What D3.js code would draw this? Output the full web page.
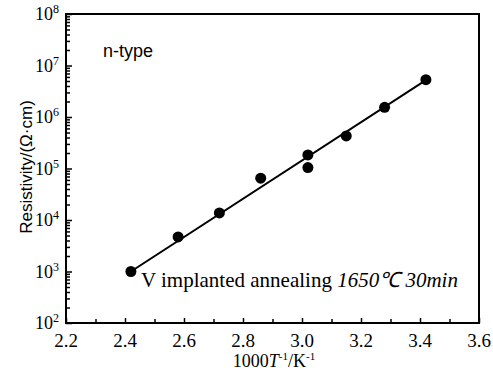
<!DOCTYPE html>
<html><head><meta charset="utf-8">
<script src="https://cdn.jsdelivr.net/npm/d3@7"></script>
<style>body{margin:0;background:#fff}svg{display:block}</style>
</head><body>
<svg id="c" width="493" height="373"></svg>
<script>
const xTicks = [2.2, 2.4, 2.6, 2.8, 3.0, 3.2, 3.4, 3.6];
const xMinor = [2.3, 2.5, 2.7, 2.9, 3.1, 3.3, 3.5];
const yExponents = [2, 3, 4, 5, 6, 7, 8];
const invT = [2.42, 2.58, 2.72, 2.86, 3.02, 3.02, 3.15, 3.28, 3.42];
const resistivity = [1.0e3, 4.7e3, 1.37e4, 6.5e4, 1.83e5, 1.04e5, 4.3e5, 1.54e6, 5.3e6];
const fitX = [2.42, 3.42];
const fitY = [1.0e3, 5.2e6];

const svg = d3.select("#c");
const L = 66, R = 479, T = 14, B = 323;
const x = d3.scaleLinear().domain([2.2, 3.6]).range([L, R]);
const y = d3.scaleLog().domain([1e2, 1e8]).range([B, T]);

const serif = "'Liberation Serif','Times New Roman',serif";
const sans = "'Liberation Sans',Arial,sans-serif";

const yMinor = [];
for (let e = 2; e < 8; e++) for (let m = 2; m <= 9; m++) yMinor.push(m * Math.pow(10, e));

const gx = svg.append("g").attr("transform", `translate(0,${B})`);
gx.call(d3.axisBottom(x).tickValues(xTicks).tickSize(-5).tickSizeOuter(0).tickFormat(""));
const gxm = svg.append("g").attr("transform", `translate(0,${B})`);
gxm.call(d3.axisBottom(x).tickValues(xMinor).tickSize(-4).tickSizeOuter(0).tickFormat(""));
const gy = svg.append("g").attr("transform", `translate(${L},0)`);
gy.call(d3.axisLeft(y).tickValues(yExponents.map(e => Math.pow(10, e))).tickSize(-6).tickSizeOuter(0).tickFormat(""));
const gym = svg.append("g").attr("transform", `translate(${L},0)`);
gym.call(d3.axisLeft(y).tickValues(yMinor).tickSize(-4).tickSizeOuter(0).tickFormat(""));
svg.selectAll(".domain").remove();
svg.selectAll(".tick line").attr("stroke", "#000").attr("stroke-width", 1.5);

svg.append("rect").attr("x", L).attr("y", T).attr("width", R - L).attr("height", B - T)
  .attr("fill", "none").attr("stroke", "#000").attr("stroke-width", 2);

svg.append("g").selectAll("text").data(xTicks).join("text")
  .attr("x", d => x(d)).attr("y", 347).attr("text-anchor", "middle")
  .attr("font-family", serif).attr("font-size", 19)
  .text(d => d.toFixed(1));

const yl = svg.append("g").selectAll("text").data(yExponents).join("text")
  .attr("x", 59).attr("y", d => y(Math.pow(10, d)) + 6).attr("text-anchor", "end")
  .attr("font-family", serif).attr("font-size", 18);
yl.append("tspan").text("10");
yl.append("tspan").attr("dy", -7).attr("font-size", 12).text(d => d);

svg.append("path").datum(fitX.map((v, i) => [v, fitY[i]]))
  .attr("d", d3.line().x(d => x(d[0])).y(d => y(d[1])))
  .attr("stroke", "#000").attr("stroke-width", 2).attr("fill", "none");

svg.append("g").selectAll("circle").data(invT.map((v, i) => [v, resistivity[i]])).join("circle")
  .attr("cx", d => x(d[0])).attr("cy", d => y(d[1])).attr("r", 5.5).attr("fill", "#000");

svg.append("text").attr("x", 103).attr("y", 57).attr("font-family", sans).attr("font-size", 18).text("n-type");
const ann = svg.append("text").attr("x", 141).attr("y", 287).attr("font-family", serif).attr("font-size", 21);
ann.append("tspan").text("V implanted annealing ");
ann.append("tspan").attr("font-style", "italic").text("1650℃ 30min");

const xt = svg.append("text").attr("x", 274).attr("y", 367).attr("text-anchor", "middle")
  .attr("font-family", serif).attr("font-size", 18);
xt.append("tspan").text("1000");
xt.append("tspan").attr("font-style", "italic").text("T");
xt.append("tspan").attr("dy", -7).attr("font-size", 11).text("-1");
xt.append("tspan").attr("dy", 7).text("/K");
xt.append("tspan").attr("dy", -7).attr("font-size", 11).text("-1");

svg.append("text").attr("transform", "translate(32,167) rotate(-90)").attr("text-anchor", "middle")
  .attr("font-family", sans).attr("font-size", 17).text("Resistivity/(Ω·cm)");
</script>
</body></html>
